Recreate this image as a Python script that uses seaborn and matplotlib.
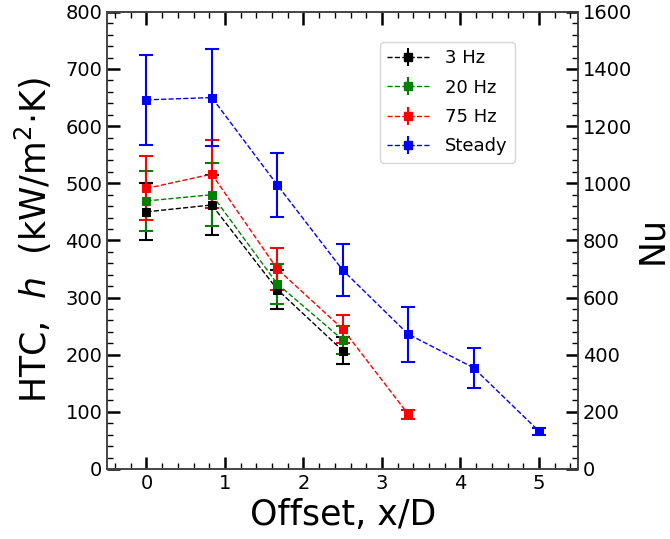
import numpy as np
import pandas as pd
import matplotlib
matplotlib.use("Agg")
import matplotlib.pyplot as plt
from matplotlib.ticker import MultipleLocator
import seaborn as sns

# ---- data ----
x_offsets = [0.0, 0.833, 1.667, 2.5, 3.333, 4.167, 5.0]
labels = ["3 Hz", "20 Hz", "75 Hz", "Steady"]
colors = ["black", "green", "red", "blue"]
htc_3hz = [450, 462, 314, 207]
err_3hz = [50, 52, 34, 24]
htc_20hz = [469, 480, 324, 226]
err_20hz = [53, 55, 35, 24]
htc_75hz = [491, 516, 350, 245, 96]
err_75hz = [56, 60, 37, 25, 8]
htc_steady = [646, 650, 497, 348, 236, 177, 66]
err_steady = [79, 85, 56, 45, 48, 35, 6]
x_ticks = [0, 1, 2, 3, 4, 5]
left_ticks = [0, 100, 200, 300, 400, 500, 600, 700, 800]
right_ticks = [0, 200, 400, 600, 800, 1000, 1200, 1400, 1600]

series = [htc_3hz, htc_20hz, htc_75hz, htc_steady]
errors = [err_3hz, err_20hz, err_75hz, err_steady]

rows = []
for lab, ys, es in zip(labels, series, errors):
    for xv, yv, ev in zip(x_offsets, ys, es):
        rows.append({"x": xv, "htc": yv, "err": ev, "case": lab})
df = pd.DataFrame(rows)

sns.set_style("ticks")
plt.rcParams["font.family"] = ["DejaVu Sans"]
plt.rcParams["mathtext.fontset"] = "dejavusans"
plt.rcParams["text.color"] = "black"
plt.rcParams["axes.labelcolor"] = "black"
plt.rcParams["xtick.color"] = "black"
plt.rcParams["ytick.color"] = "black"

fig = plt.figure(figsize=(6.7, 5.39), dpi=100)
ax = fig.add_axes([0.160, 0.130, 0.703, 0.848])

handles = []
for lab, col in zip(labels, colors):
    sub = df[df["case"] == lab]
    ax.errorbar(sub["x"], sub["htc"], yerr=sub["err"], fmt="none",
                ecolor=col, elinewidth=1.5, capsize=5, capthick=1.5, zorder=2)
    sns.lineplot(data=sub, x="x", y="htc", ax=ax, color=col, linestyle="--",
                 linewidth=1.0, marker="s", markersize=6, markeredgecolor=col,
                 markerfacecolor=col, legend=False, zorder=3, errorbar=None)
    h = ax.errorbar([], [], yerr=[], fmt="s--", color=col, ecolor=col,
                    elinewidth=1.5, capsize=5, capthick=1.5, linewidth=1.0,
                    markersize=6, label=lab)
    handles.append(h)

ax.set_xlim(-0.5, 5.5)
ax.set_ylim(0, 800)
ax.set_xticks(x_ticks)
ax.set_yticks(left_ticks)
ax.xaxis.set_minor_locator(MultipleLocator(0.2))
ax.yaxis.set_minor_locator(MultipleLocator(20))
ax.tick_params(which="major", direction="in", length=9, width=1.8,
               labelsize=14, top=True, right=False, color="black",
               labelcolor="black")
ax.tick_params(which="minor", direction="in", length=4.5, width=1.0,
               top=True, right=False, color="black")
ax.set_xlabel("Offset, x/D", fontsize=25, labelpad=4, color="black")
ax.set_ylabel(r"HTC,  $h$  (kW/m$^2$$\cdot$K)", fontsize=25, labelpad=8,
              color="black")

ax2 = ax.twinx()
ax2.set_ylim(0, 1600)
ax2.set_yticks(right_ticks)
ax2.yaxis.set_minor_locator(MultipleLocator(40))
ax2.tick_params(which="major", direction="in", length=9, width=1.8,
                labelsize=14, color="black", labelcolor="black")
ax2.tick_params(which="minor", direction="in", length=4.5, width=1.0,
                color="black")
ax2.set_ylabel("Nu", fontsize=25, labelpad=2, color="black")

for a in (ax, ax2):
    for s in a.spines.values():
        s.set_linewidth(1.2)
        s.set_color("#444444")
        s.set_visible(True)

leg = ax.legend(handles=handles, labels=labels, loc="upper right",
                bbox_to_anchor=(0.866, 0.934), borderaxespad=0,
                fontsize=13, frameon=True, labelspacing=0.63,
                handlelength=2.3, handletextpad=0.9)
leg.get_frame().set_edgecolor("#cccccc")
for t in leg.get_texts():
    t.set_color("black")

fig.savefig("out.png", dpi=100)
